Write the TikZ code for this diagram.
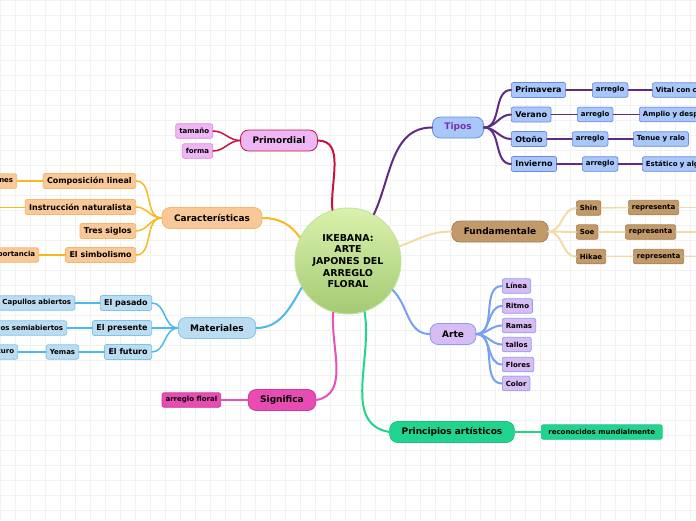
\documentclass[tikz,border=0pt]{standalone}
\usepackage{fontspec}
\setmainfont{DejaVu Sans}
\usepackage{xcolor}
\usetikzlibrary{positioning}

\definecolor{rootA}{HTML}{DAF2AC}
\definecolor{rootB}{HTML}{A4CA74}
\definecolor{rootline}{HTML}{C4E49C}
\definecolor{primfill}{HTML}{EEB6F4}
\definecolor{primline}{HTML}{C8143C}
\definecolor{primleaf}{HTML}{E088D8}
\definecolor{carfill}{HTML}{F8C898}
\definecolor{carborder}{HTML}{F6B868}
\definecolor{carline}{HTML}{F8B820}
\definecolor{matfill}{HTML}{BCDCF2}
\definecolor{matborder}{HTML}{80C4EC}
\definecolor{matline}{HTML}{4CB8EC}
\definecolor{sigfill}{HTML}{E84CB4}
\definecolor{sigborder}{HTML}{C83C98}
\definecolor{sigline}{HTML}{E850B8}
\definecolor{tipfill}{HTML}{A8C8FC}
\definecolor{tipborder}{HTML}{6C88E0}
\definecolor{tipline}{HTML}{5C2D80}
\definecolor{tiptext}{HTML}{7A30A8}
\definecolor{funfill}{HTML}{C29A6A}
\definecolor{funborder}{HTML}{A88052}
\definecolor{funline}{HTML}{F0DCA8}
\definecolor{artfill}{HTML}{D8BCF4}
\definecolor{artborder}{HTML}{8C9CF0}
\definecolor{artline}{HTML}{78A0F0}
\definecolor{prinfill}{HTML}{20D490}
\definecolor{prinborder}{HTML}{20C080}
\definecolor{prinline}{HTML}{20D48C}

\begin{document}
\begin{tikzpicture}[
    x=1pt, y=-1pt,
    root/.style={
        circle,
        draw=rootline,
        line width=1pt,
        top color=rootA,
        bottom color=rootB,
        minimum size=106pt,
        inner sep=0pt,
        align=center,
        font=\fontsize{9.5}{11.6}\selectfont\bfseries
    },
    topic/.style={
        rectangle,
        rounded corners=8pt,
        draw,
        line width=0.8pt,
        minimum height=21pt,
        inner xsep=12pt,
        font=\fontsize{9}{10}\selectfont\bfseries
    },
    sub/.style={
        rectangle,
        rounded corners=2pt,
        draw,
        line width=0.7pt,
        minimum height=15pt,
        inner xsep=4pt,
        font=\fontsize{8}{9}\selectfont\bfseries
    },
    leaf/.style={
        rectangle,
        rounded corners=2pt,
        draw,
        line width=0.7pt,
        minimum height=14.5pt,
        inner xsep=3.5pt,
        font=\fontsize{7}{8}\selectfont\bfseries
    },
    cutleft/.style={text width=#1, align=right},
    cutright/.style={text width=#1, align=left},
    link/.style={line width=2pt, line cap=round},
    twig/.style={line width=1.5pt, line cap=round}
]

\useasboundingbox (0,0) rectangle (696,520);
\clip (0,0) rectangle (696,520);

% fondo cuadriculado
\foreach \gx in {0,15,...,690} {\draw[black!5, line width=0.5pt] (\gx,0) -- (\gx,520);}
\foreach \gy in {0,15,...,515} {\draw[black!5, line width=0.5pt] (0,\gy) -- (696,\gy);}

% ============================================================
% NODOS
% ============================================================

% Centro
\node[root] (ike) at (348,261) {IKEBANA:\\ARTE\\JAPONES DEL\\ARREGLO\\ FLORAL};

% Primordial
\node[topic, fill=primfill, draw=primline] (prim) at (279,140.5) {Primordial};
\node[leaf, fill=primfill, draw=primleaf, anchor=east] (tam) at (213,131) {tamaño};
\node[leaf, fill=primfill, draw=primleaf, anchor=east] (forma) at (213,151) {forma};

% Características
\node[topic, fill=carfill, draw=carborder] (car) at (212,218) {Características};
\node[sub, fill=carfill, draw=carborder, anchor=east] (comp) at (136,181) {Composición lineal};
\node[sub, fill=carfill, draw=carborder, anchor=east] (instr) at (136,207) {Instrucción naturalista};
\node[sub, fill=carfill, draw=carborder, anchor=east] (tres) at (136,231) {Tres siglos};
\node[sub, fill=carfill, draw=carborder, anchor=east] (simb) at (136,255) {El simbolismo};
\node[leaf, fill=carfill, draw=carborder, anchor=east, cutleft=40pt] (nes) at (17,181) {nes};
\node[leaf, fill=carfill, draw=carborder, anchor=east, cutleft=60pt] (impo) at (39,255) {portancia};
\coordinate (instrfar) at (-15,207);

% Materiales
\node[topic, fill=matfill, draw=matborder] (mat) at (217,328) {Materiales};
\node[sub, fill=matfill, draw=matborder, anchor=east] (pasado) at (152,303) {El pasado};
\node[sub, fill=matfill, draw=matborder, anchor=east] (presente) at (152,328) {El presente};
\node[sub, fill=matfill, draw=matborder, anchor=east] (futuro) at (152,352) {El futuro};
\node[leaf, fill=matfill, draw=matborder, anchor=east] (abiertos) at (75,303) {Capullos abiertos};
\node[leaf, fill=matfill, draw=matborder, anchor=east, cutleft=90pt] (semi) at (67,328) {los semiabiertos};
\node[leaf, fill=matfill, draw=matborder, anchor=east] (yemas) at (79,352) {Yemas};
\node[leaf, fill=matfill, draw=matborder, anchor=east, cutleft=40pt] (curo) at (18,352) {curo};

% Significa
\node[topic, fill=sigfill, draw=sigborder] (sig) at (282,400) {Significa};
\node[leaf, fill=sigfill, draw=sigborder, anchor=east] (floral) at (221,400) {arreglo floral};

% Tipos
\node[topic, fill=tipfill, draw=tipborder, text=tiptext] (tipos) at (458,127.5) {Tipos};
\node[sub, fill=tipfill, draw=tipborder, anchor=west] (prima) at (511,90) {Primavera};
\node[sub, fill=tipfill, draw=tipborder, anchor=west] (verano) at (511,114.5) {Verano};
\node[sub, fill=tipfill, draw=tipborder, anchor=west] (otono) at (511,139) {Otoño};
\node[sub, fill=tipfill, draw=tipborder, anchor=west] (invierno) at (511,164) {Invierno};
\node[leaf, fill=tipfill, draw=tipborder, anchor=west] (arrA) at (592,90) {arreglo};
\node[leaf, fill=tipfill, draw=tipborder, anchor=west] (arrB) at (577,114.5) {arreglo};
\node[leaf, fill=tipfill, draw=tipborder, anchor=west] (arrC) at (572,139) {arreglo};
\node[leaf, fill=tipfill, draw=tipborder, anchor=west] (arrD) at (582,164) {arreglo};
\node[leaf, fill=tipfill, draw=tipborder, anchor=west, cutright=70pt] (vital) at (652,90) {Vital con c};
\node[leaf, fill=tipfill, draw=tipborder, anchor=west, cutright=80pt] (amplio) at (639,114.5) {Amplio y desp};
\node[leaf, fill=tipfill, draw=tipborder, anchor=west] (tenue) at (633,139) {Tenue y ralo};
\node[leaf, fill=tipfill, draw=tipborder, anchor=west, cutright=80pt] (estat) at (642,164) {Estático y alg};

% Fundamentale
\node[topic, fill=funfill, draw=funborder] (fund) at (500,231.5) {Fundamentale};
\node[leaf, fill=funfill, draw=funborder, anchor=west] (shin) at (576,208) {Shin};
\node[leaf, fill=funfill, draw=funborder, anchor=west] (soe) at (576,232) {Soe};
\node[leaf, fill=funfill, draw=funborder, anchor=west] (hikae) at (576,256.5) {Hikae};
\node[leaf, fill=funfill, draw=funborder, anchor=west] (repA) at (628,207.5) {representa};
\node[leaf, fill=funfill, draw=funborder, anchor=west] (repB) at (625,232) {representa};
\node[leaf, fill=funfill, draw=funborder, anchor=west] (repC) at (633,256.5) {representa};
\coordinate (repAfar) at (715,207.5);
\coordinate (repBfar) at (715,232);
\coordinate (repCfar) at (715,256.5);

% Arte
\node[topic, fill=artfill, draw=artborder] (arte) at (453,334) {Arte};
\node[leaf, fill=artfill, draw=artborder, anchor=west] (linea) at (502,286) {Línea};
\node[leaf, fill=artfill, draw=artborder, anchor=west] (ritmo) at (502,306) {Ritmo};
\node[leaf, fill=artfill, draw=artborder, anchor=west] (ramas) at (502,325.5) {Ramas};
\node[leaf, fill=artfill, draw=artborder, anchor=west] (tallos) at (502,344.5) {tallos};
\node[leaf, fill=artfill, draw=artborder, anchor=west] (flores) at (502,364.5) {Flores};
\node[leaf, fill=artfill, draw=artborder, anchor=west] (color) at (502,383.5) {Color};

% Principios
\node[topic, fill=prinfill, draw=prinborder] (prin) at (452,432) {Principios artísticos};
\node[leaf, fill=prinfill, draw=prinborder, anchor=west, inner xsep=7pt] (recon) at (541,432) {reconocidos mundialmente};

% ============================================================
% CONEXIONES
% ============================================================

% Centro → ramas principales
\draw[link, primline] (ike.107) to[out=95, in=0] (prim.east);
\draw[link, carline] (ike.154) to[out=125, in=0] (car.east);
\draw[link, matline] (ike.-150) to[out=-120, in=0] (mat.east);
\draw[link, sigline] (ike.-106) to[out=-95, in=10] (sig.east);
\draw[link, tipline] (ike.61) to[out=65, in=180] (tipos.west);
\draw[link, funline] (ike.16) to[out=20, in=180] (fund.west);
\draw[link, artline] (ike.-33) to[out=-45, in=180] (arte.west);
\draw[link, prinline] (ike.-72) to[out=-80, in=170] (prin.west);

% Primordial
\foreach \c in {tam, forma} {\draw[twig, primline] (prim.west) to[out=180, in=0] (\c.east);}

% Características
\foreach \c in {comp, instr, tres, simb} {\draw[twig, carline] (car.west) to[out=180, in=0] (\c.east);}
\draw[twig, carline] (comp.west) -- (nes.east);
\draw[twig, carline, line width=1pt] (instr.west) -- (instrfar);
\draw[twig, carline] (simb.west) -- (impo.east);

% Materiales
\foreach \c in {pasado, presente, futuro} {\draw[twig, matline] (mat.west) to[out=180, in=0] (\c.east);}
\draw[twig, matline] (pasado.west) -- (abiertos.east);
\draw[twig, matline] (presente.west) -- (semi.east);
\draw[twig, matline] (futuro.west) -- (yemas.east);
\draw[twig, matline] (yemas.west) -- (curo.east);

% Significa
\draw[twig, sigline] (sig.west) -- (floral.east);

% Tipos
\foreach \c in {prima, verano, otono, invierno} {\draw[link, tipline] (tipos.east) to[out=0, in=180] (\c.west);}
\draw[twig, tipline] (prima.east) -- (arrA.west);
\draw[twig, tipline] (verano.east) -- (arrB.west);
\draw[twig, tipline] (otono.east) -- (arrC.west);
\draw[twig, tipline] (invierno.east) -- (arrD.west);
\draw[twig, tipline] (arrA.east) -- (vital.west);
\draw[twig, tipline] (arrB.east) -- (amplio.west);
\draw[twig, tipline] (arrC.east) -- (tenue.west);
\draw[twig, tipline] (arrD.east) -- (estat.west);

% Fundamentale
\foreach \c in {shin, soe, hikae} {\draw[link, funline] (fund.east) to[out=0, in=180] (\c.west);}
\draw[twig, funline] (shin.east) -- (repA.west);
\draw[twig, funline] (soe.east) -- (repB.west);
\draw[twig, funline] (hikae.east) -- (repC.west);
\draw[twig, funline] (repA.east) -- (repAfar);
\draw[twig, funline] (repB.east) -- (repBfar);
\draw[twig, funline] (repC.east) -- (repCfar);

% Arte
\foreach \c in {linea, ritmo, ramas, tallos, flores, color} {\draw[link, artline] (arte.east) to[out=0, in=180] (\c.west);}

% Principios
\draw[twig, prinline] (prin.east) -- (recon.west);

\end{tikzpicture}
\end{document}
